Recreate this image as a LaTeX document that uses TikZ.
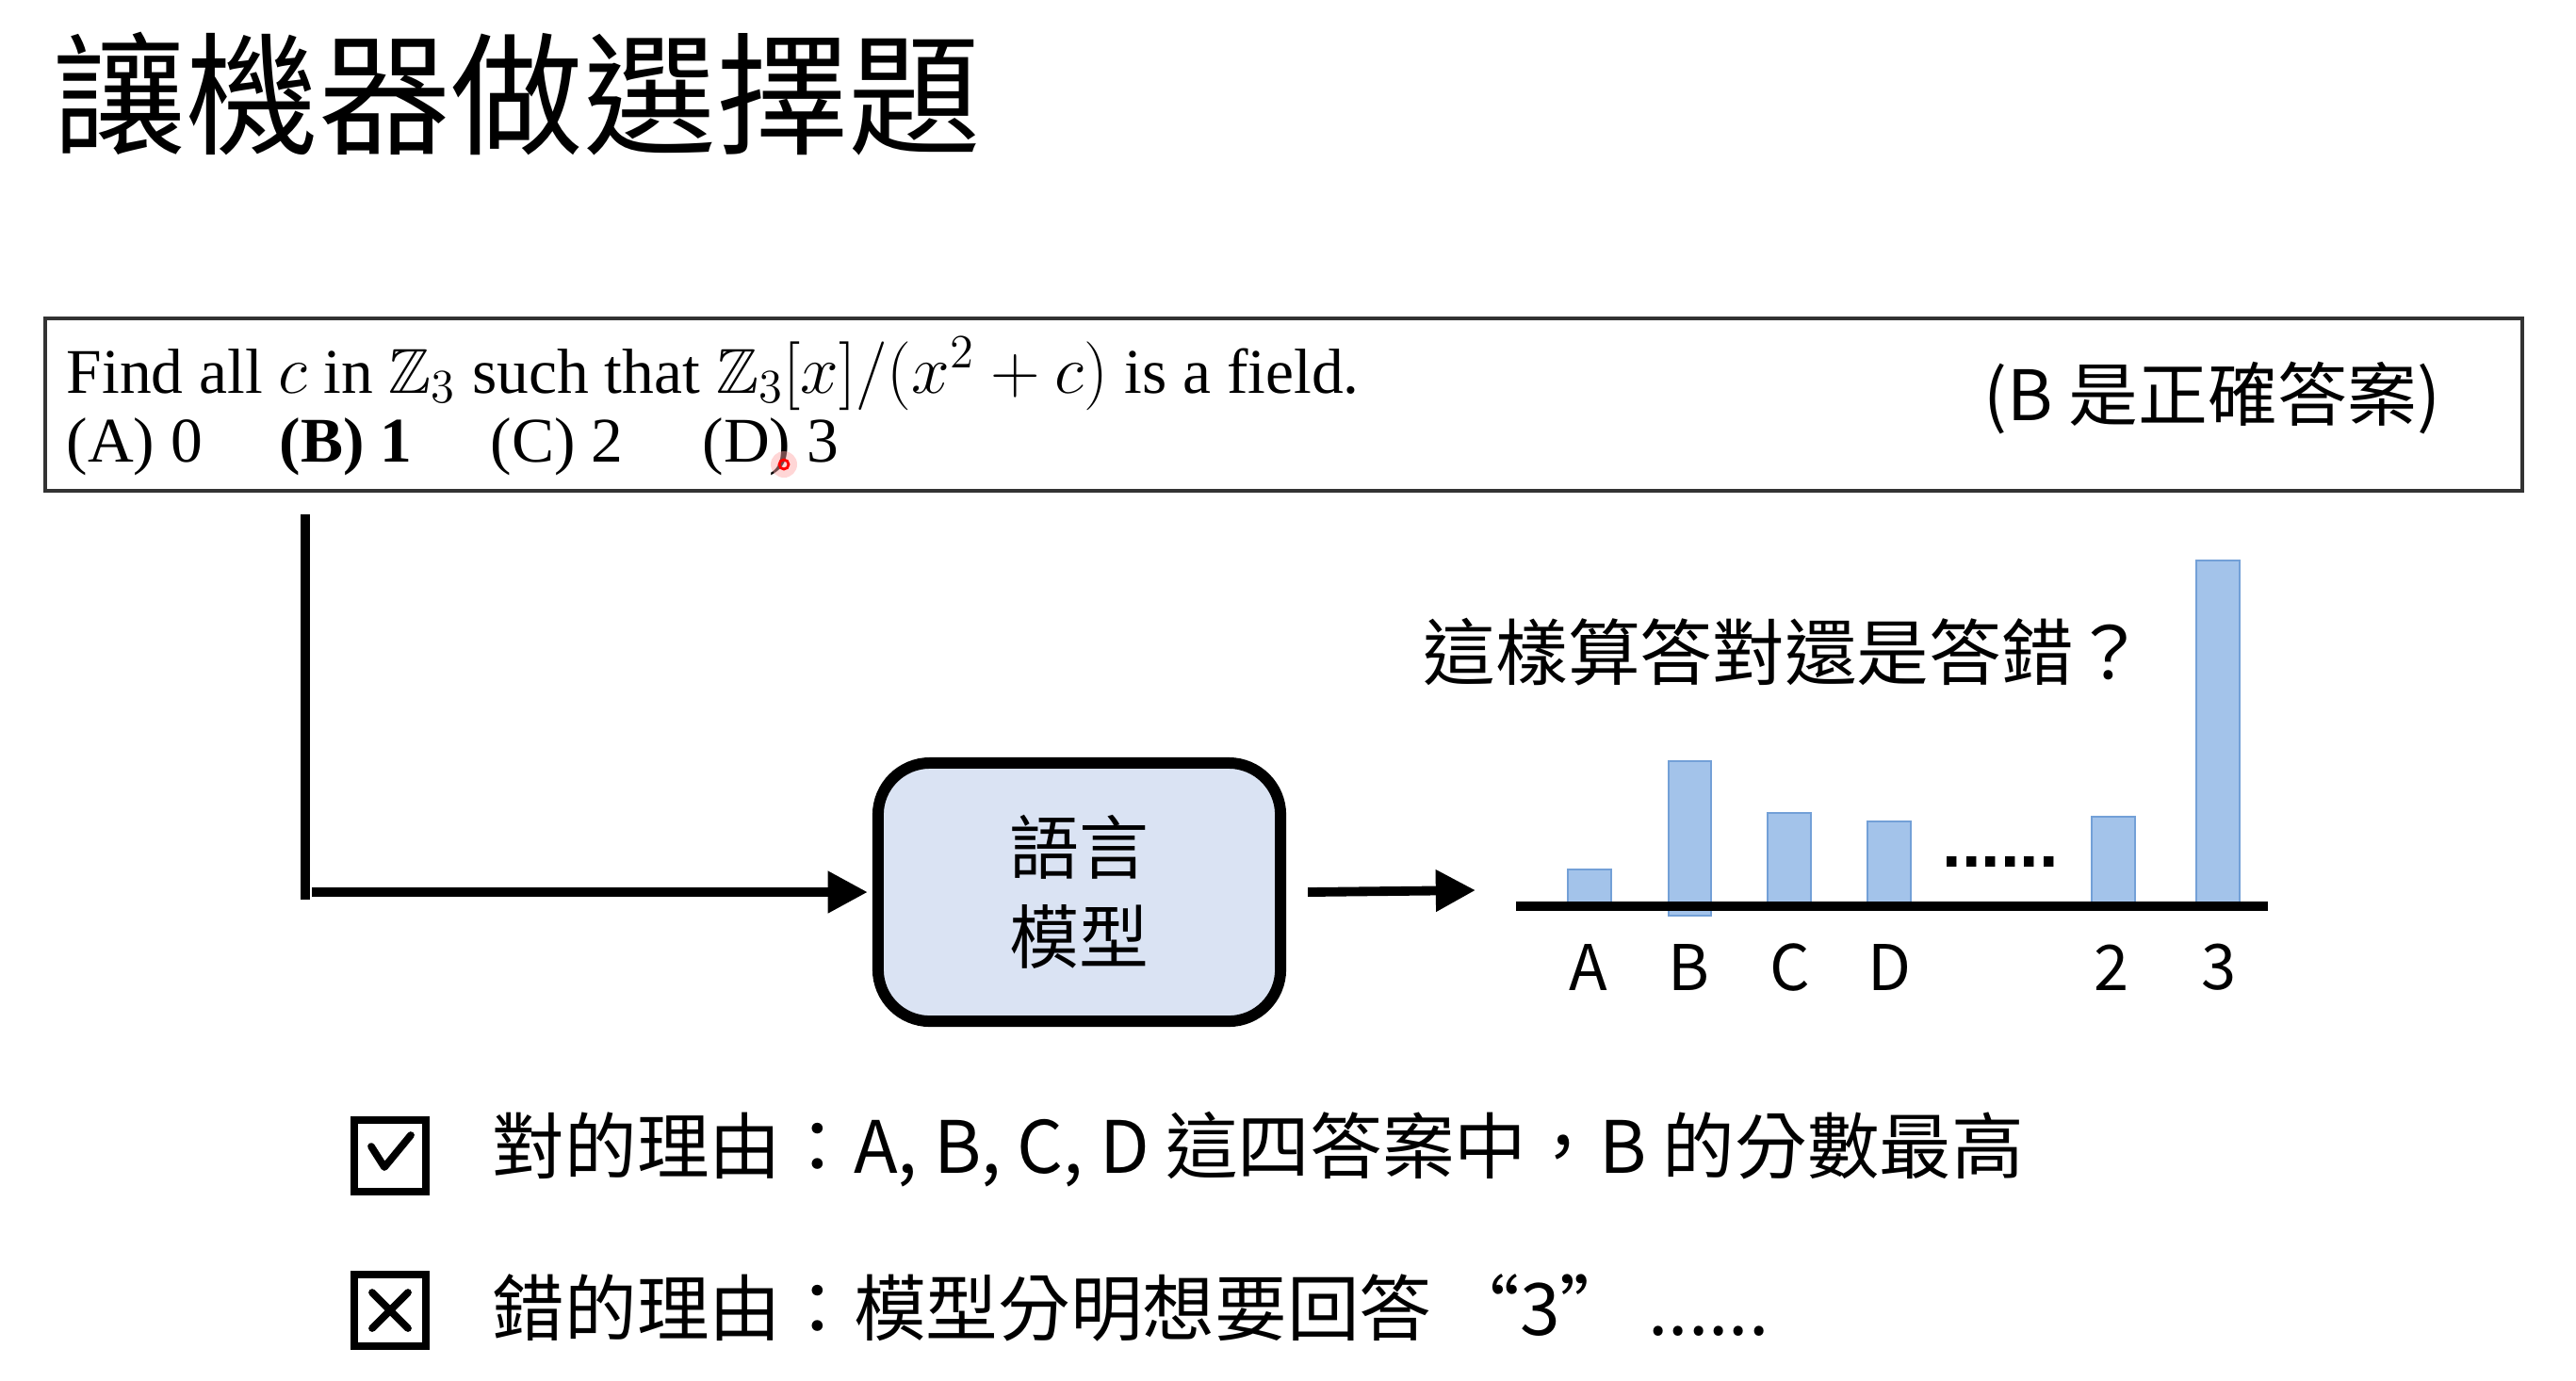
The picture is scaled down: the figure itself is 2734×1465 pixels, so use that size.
\documentclass[tikz,border=0pt]{standalone}
\usepackage{amssymb}
\usepackage{fontspec}
\setmainfont{Liberation Serif}
\newfontfamily\cjk{Noto Sans CJK TC}
\newfontfamily\lsans{Liberation Sans}
\usetikzlibrary{arrows.meta}
\definecolor{boxfill}{RGB}{218,227,243}
\definecolor{barfill}{RGB}{163,195,234}
\definecolor{baredge}{RGB}{115,160,215}
\begin{document}
\begin{tikzpicture}[x=0.01cm,y=-0.01cm,
  titletext/.style={anchor=west,inner sep=0,font=\cjk\fontsize{40pt}{48pt}\selectfont},
  qtext/.style={anchor=base west,inner sep=0,font=\fontsize{19.2pt}{24pt}\selectfont},
  cjktext/.style={inner sep=0,font=\cjk\fontsize{21pt}{26pt}\selectfont},
  bottomtext/.style={anchor=west,inner sep=0,font=\cjk\fontsize{21.8pt}{26pt}\selectfont},
  barlabel/.style={inner sep=0,font=\cjk\fontsize{19pt}{23pt}\selectfont},
  model/.style={draw=black,line width=3.4pt,rounded corners=0.55cm,fill=boxfill,
    minimum width=4.27cm,minimum height=2.74cm,align=center,inner sep=0,
    font=\cjk\fontsize{21pt}{27pt}\selectfont},
  thickarrow/.style={line width=2.8pt,-{Triangle[length=12pt,width=12pt]}},
  bar/.style={fill=barfill,draw=baredge,line width=0.5pt},
  ckbox/.style={draw=black,line width=2.3pt,minimum size=0.76cm,inner sep=0},
  tickmark/.style={line width=2.2pt,line cap=round,line join=round}
]
\useasboundingbox (0,0) rectangle (2734,1465);
\fill[white] (0,0) rectangle (2734,1465);

% title
\node[titletext] (title) at (56,100) {讓機器做選擇題};

% question box
\node[draw=black!80,line width=1.1pt,minimum width=26.27cm,minimum height=1.83cm,inner sep=0] (qbox) at (1362.5,429.5) {};
\node[qtext] (q1) at (70,417) {Find all $c$ in $\mathbb{Z}_3$ such that $\mathbb{Z}_3[x]/(x^2+c)$ is a field.};
\node[qtext] (oa) at (70,490) {(A) 0};
\node[qtext] (ob) at (296,490) {\textbf{(B) 1}};
\node[qtext] (oc) at (520,490) {(C) 2};
\node[qtext] (od) at (745,490) {(D) 3};
\node[cjktext] (ans) at (2348,423) {(B 是正確答案)};
% pointer
\fill[red!35,opacity=0.45] (832,493) circle (14);
\draw[red,line width=0.8pt] (832,493) circle (5);

% input line
\coordinate (vtop) at (324,546);
\coordinate (vbot) at (324,955);
\draw[line width=2.6pt] (vtop) -- (vbot);
\coordinate (inStart) at (331,947);

% model
\node[model] (lm) at (1145.5,947) {語言\\模型};
\draw[thickarrow,shorten >=0.05cm] (inStart) -- (lm.west);

% output arrow
\coordinate (outEnd) at (1566,945);
\draw[thickarrow] ([xshift=0.23cm]lm.east) -- (outEnd);

% chart
\node[inner sep=0,anchor=west,font=\cjk\fontsize{21.8pt}{26pt}\selectfont] (qq) at (1510,692) {這樣算答對還是答錯？};
\draw[bar] (1664,923) rectangle (1710,960);
\draw[bar] (1771,808) rectangle (1816,972);
\draw[bar] (1876,863) rectangle (1922,960);
\draw[bar] (1982,872) rectangle (2028,960);
\draw[bar] (2220,867) rectangle (2266,960);
\draw[bar] (2331,595) rectangle (2377,960);
\coordinate (axisL) at (1609,962);
\coordinate (axisR) at (2407,962);
\draw[line width=2.7pt] (axisL) -- (axisR);
\node[inner sep=0,anchor=base,font=\lsans\bfseries\fontsize{21pt}{25pt}\selectfont] (dots) at (2123,920) {......};
\node[barlabel] (la) at (1686,1027) {A};
\node[barlabel] (lb) at (1792,1027) {B};
\node[barlabel] (lc) at (1900,1027) {C};
\node[barlabel] (ld) at (2005,1027) {D};
\node[barlabel] (l2) at (2241,1027) {2};
\node[barlabel] (l3) at (2355,1027) {3};

% reasons
\node[ckbox] (ck1) at (414,1227) {};
\draw[tickmark] ([shift={(-20,-10)}]ck1.center) -- ([shift={(-6,12)}]ck1.center) -- ([shift={(22,-22)}]ck1.center);
\node[bottomtext] (r1) at (522,1220) {對的理由：A, B, C, D 這四答案中，B 的分數最高};
\node[ckbox] (ck2) at (414,1391) {};
\draw[tickmark] ([shift={(-19,-19)}]ck2.center) -- ([shift={(19,19)}]ck2.center);
\draw[tickmark] ([shift={(-19,19)}]ck2.center) -- ([shift={(19,-19)}]ck2.center);
\node[bottomtext] (r2) at (522,1388) {錯的理由：模型分明想要回答 “3” ......};
\end{tikzpicture}
\end{document}
